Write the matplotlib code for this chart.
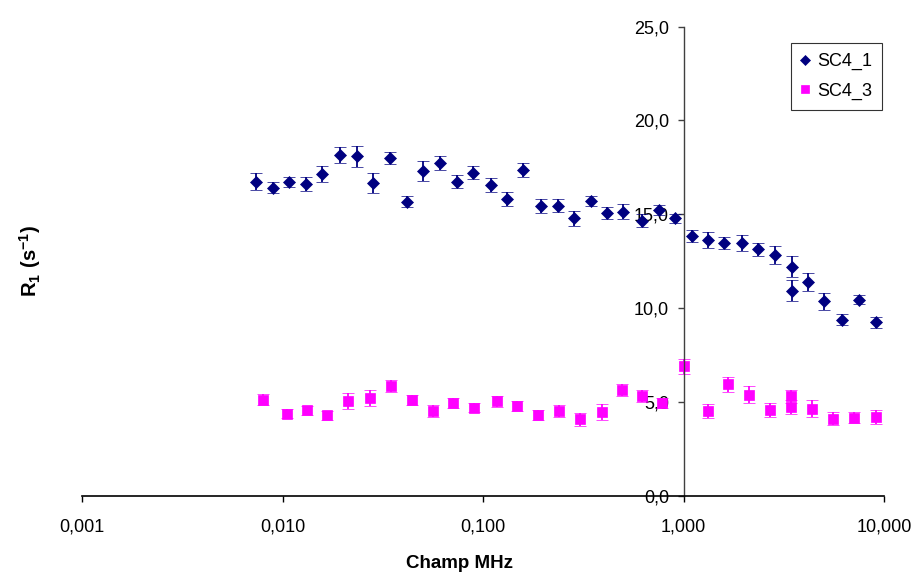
import matplotlib
matplotlib.use('Agg')
import matplotlib.pyplot as plt

# Données SC4_1 (champ en MHz, R1 en s-1, erreur)
champ_1 = [0.00738, 0.00893, 0.0108, 0.0131, 0.0158, 0.0194, 0.0234, 0.0284, 0.0343,
           0.0416, 0.0500, 0.0611, 0.0745, 0.0896, 0.109, 0.131, 0.159, 0.195, 0.236,
           0.285, 0.347, 0.417, 0.501, 0.619, 0.752, 0.910, 1.099, 1.32, 1.60, 1.95,
           2.36, 2.86, 3.47, 3.47, 4.19, 5.04, 6.19, 7.50, 9.10]
r1_1 = [16.74, 16.42, 16.74, 16.60, 17.13, 18.15, 18.08, 16.65, 18.01, 15.67, 17.30,
        17.74, 16.74, 17.21, 16.56, 15.83, 17.36, 15.45, 15.45, 14.79, 15.71, 15.06,
        15.14, 14.65, 15.22, 14.79, 13.85, 13.63, 13.47, 13.47, 13.13, 12.83, 12.21,
        10.93, 11.41, 10.37, 9.39, 10.44, 9.25]
err_1 = [0.45, 0.29, 0.27, 0.37, 0.42, 0.42, 0.57, 0.53, 0.33, 0.29, 0.52, 0.38, 0.33,
         0.35, 0.37, 0.37, 0.37, 0.39, 0.35, 0.40, 0.28, 0.33, 0.40, 0.34, 0.28, 0.24,
         0.33, 0.44, 0.31, 0.44, 0.36, 0.47, 0.56, 0.55, 0.47, 0.44, 0.31, 0.24, 0.28]

# Données SC4_3
champ_3 = [0.00796, 0.0105, 0.0132, 0.0167, 0.0213, 0.0273, 0.0348, 0.0440, 0.0561,
           0.0711, 0.0906, 0.117, 0.148, 0.187, 0.238, 0.305, 0.391, 0.492, 0.619,
           0.779, 1.005, 1.32, 1.67, 2.12, 2.70, 3.44, 3.44, 4.39, 5.59, 7.08, 9.12]
r1_3 = [5.13, 4.39, 4.56, 4.30, 5.06, 5.22, 5.86, 5.13, 4.53, 4.95, 4.71, 5.04, 4.78,
        4.30, 4.51, 4.09, 4.47, 5.63, 5.31, 4.95, 6.90, 4.51, 5.94, 5.40, 4.60, 5.31,
        4.74, 4.65, 4.12, 4.16, 4.21]
err_3 = [0.31, 0.24, 0.24, 0.25, 0.44, 0.44, 0.32, 0.27, 0.33, 0.25, 0.26, 0.28, 0.28,
         0.27, 0.31, 0.34, 0.42, 0.33, 0.31, 0.25, 0.38, 0.37, 0.38, 0.46, 0.37, 0.35,
         0.37, 0.44, 0.34, 0.29, 0.38]

xticks = [0.001, 0.01, 0.1, 1, 10]
xlabels = ['0,001', '0,010', '0,100', '1,000', '10,000']
yticks = [0, 5, 10, 15, 20, 25]
ylabels = ['0,0', '5,0', '10,0', '15,0', '20,0', '25,0']

plt.rcParams['font.family'] = ['Liberation Sans', 'DejaVu Sans']
plt.rcParams['mathtext.fontset'] = 'custom'
plt.rcParams['mathtext.rm'] = 'Liberation Sans:bold'
plt.rcParams['mathtext.bf'] = 'Liberation Sans:bold'

fig = plt.figure(figsize=(9.15, 5.77), dpi=100)
ax = fig.add_axes([82 / 915, 1 - 496 / 577, (884 - 82) / 915, (496 - 26.5) / 577])

e1 = ax.errorbar(champ_1, r1_1, yerr=err_1, fmt='D', color='#000080', ms=5.8,
                 mew=0.5, ecolor='#000080', elinewidth=1.3, capsize=4, capthick=1.3)
e3 = ax.errorbar(champ_3, r1_3, yerr=err_3, fmt='s', color='#FF00FF', ms=7,
                 mew=0.5, ecolor='#FF00FF', elinewidth=1.3, capsize=4, capthick=1.3)

ax.set_xscale('log')
ax.set_xlim(0.001, 10)
ax.set_ylim(0, 25)
ax.minorticks_off()
ax.set_xticks(xticks)
ax.set_xticklabels(xlabels)
ax.set_yticks(yticks)
ax.set_yticklabels(ylabels)

# Axes qui se croisent à x = 1
ax.spines['top'].set_visible(False)
ax.spines['right'].set_visible(False)
ax.spines['left'].set_position(('data', 1))
ax.spines['left'].set_color('#404040')
ax.spines['left'].set_linewidth(1.0)
ax.spines['bottom'].set_linewidth(1.2)
ax.tick_params(axis='x', direction='out', length=4, width=1, pad=12, labelsize=13)
ax.tick_params(axis='y', direction='out', length=4.5, width=1, pad=6, labelsize=13,
               color='#404040')

fig.text(460 / 915, 1 - 564 / 577, 'Champ MHz', ha='center', va='center',
         fontsize=13.5, fontweight='bold')
fig.text(30 / 915, 1 - 261 / 577, r'$\mathrm{R_1\ (s^{-1})}$', ha='center', va='center',
         rotation=90, fontsize=14.5)

leg = ax.legend([e1[0], e3[0]], ['SC4_1', 'SC4_3'], loc='upper right',
                bbox_to_anchor=(882 / 915, 1 - 43 / 577), bbox_transform=fig.transFigure,
                borderaxespad=0, fancybox=False, edgecolor='black', fontsize=13,
                handlelength=0.5, handletextpad=0.4, labelspacing=0.7, borderpad=0.55,
                markerscale=0.8)
leg.get_frame().set_linewidth(0.8)

fig.savefig('out.png', dpi=100)
